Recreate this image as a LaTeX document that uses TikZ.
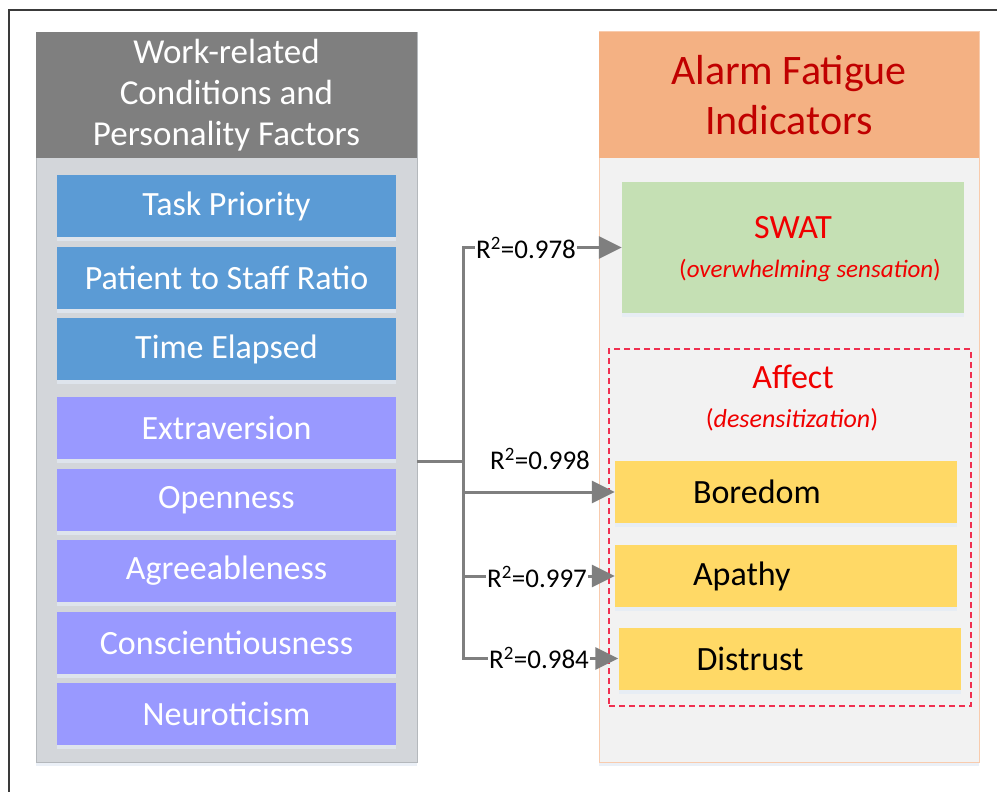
\documentclass[tikz,border=0pt]{standalone}
\usepackage{fontspec}
\setmainfont{Carlito}
\usetikzlibrary{arrows.meta,shadows}

\definecolor{hdrgray}{HTML}{7F7F7F}
\definecolor{panelgray}{HTML}{D3D6DA}
\definecolor{panelline}{HTML}{B4B8BC}
\definecolor{boxblue}{HTML}{5B9BD5}
\definecolor{boxpurple}{HTML}{9999FF}
\definecolor{hdrorange}{HTML}{F4B183}
\definecolor{panellight}{HTML}{F2F2F2}
\definecolor{peachline}{HTML}{F8CBAD}
\definecolor{boxgreen}{HTML}{C5E0B4}
\definecolor{boxyellow}{HTML}{FFD966}
\definecolor{darkred}{HTML}{C00000}
\definecolor{brightred}{HTML}{F00000}
\definecolor{dashred}{HTML}{F03050}
\definecolor{linkgray}{HTML}{7F7F7F}
\definecolor{shadowblue}{HTML}{E3EBF5}
\definecolor{framegray}{HTML}{3A3A3A}

\tikzset{
  softshadow/.style={drop shadow={shadow xshift=0pt, shadow yshift=-4pt, fill=shadowblue, opacity=0.7}},
  panel/.style={rectangle, inner sep=0pt, minimum width=381pt, minimum height=730pt},
  header/.style={rectangle, inner sep=0pt, minimum width=381pt, minimum height=126pt, align=center},
  factor/.style={rectangle, inner sep=0pt, minimum width=339pt, minimum height=62pt,
    text=white, font=\fontsize{34}{40}\selectfont, softshadow},
  workbox/.style={factor, fill=boxblue},
  personbox/.style={factor, fill=boxpurple},
  affectbox/.style={rectangle, fill=boxyellow, minimum height=62pt, text width=186pt,
    inner xsep=78pt, inner ysep=0pt, align=left, font=\fontsize{34}{40}\selectfont, softshadow},
  redtitle/.style={text=brightred, inner sep=0pt},
  conn/.style={draw=linkgray, line width=3pt},
  tip/.style={-{Triangle[length=23pt,width=22pt]}},
  rlabel/.style={fill=white, inner xsep=1pt, inner ysep=0pt, font=\fontsize{27}{32}\selectfont}
}

\begin{document}
\begin{tikzpicture}[x=1pt,y=-1pt]
  \useasboundingbox (0,0) rectangle (997,792);
  \fill[white] (0,0) rectangle (997,792);

  % outer frame (left and top edges)
  \draw[framegray, line width=2pt] (8.5,792) -- (8.5,10.5) -- (997,10.5);

  % left panel: work-related conditions and personality factors
  \node[panel, fill=panelgray, draw=panelline, line width=0.8pt, softshadow] (lp) at (226.5,397) {};
  \node[header, fill=hdrgray, text=white, font=\fontsize{35}{41}\selectfont] (lh) at (226.5,95)
    {Work-related\\Conditions and\\Personality Factors};

  \node[workbox] (task) at (226.5,206) {Task Priority};
  \node[workbox] (ratio) at (226.5,278) {Patient to Staff Ratio};
  \node[workbox] (time) at (226.5,349) {Time Elapsed};

  \node[personbox] (extra) at (226.5,428) {Extraversion};
  \node[personbox] (open) at (226.5,500) {Openness};
  \node[personbox] (agree) at (226.5,571) {Agreeableness};
  \node[personbox] (consc) at (226.5,643) {Conscientiousness};
  \node[personbox] (neuro) at (226.5,714) {Neuroticism};

  % right panel: alarm fatigue indicators
  \node[panel, minimum width=380pt, fill=panellight, draw=peachline, line width=1pt, softshadow] (rp) at (789,397) {};
  \node[header, minimum width=380pt, fill=hdrorange, text=darkred, font=\fontsize{42}{50}\selectfont] (rh) at (789,95)
    {Alarm Fatigue\\Indicators};

  \node[rectangle, fill=boxgreen, minimum width=342pt, minimum height=131pt, inner sep=0pt, softshadow] (swat) at (793,247.5) {};
  \node[redtitle, font=\fontsize{34}{40}\selectfont] (swatname) at (793,228) {SWAT};
  \node[redtitle, font=\fontsize{25}{30}\selectfont] (swatnote) at (810,270) {(\textit{overwhelming sensation})};

  \node[rectangle, draw=dashred, dash pattern=on 6pt off 4pt, line width=1.3pt,
        minimum width=362pt, minimum height=357pt, inner sep=0pt] (aff) at (790,527.5) {};
  \node[redtitle, font=\fontsize{34}{40}\selectfont] (affname) at (793,377) {Affect};
  \node[redtitle, font=\fontsize{26}{30}\selectfont] (affnote) at (792,420) {(\textit{desensitization})};

  \node[affectbox] (bore) at (786,492) {Boredom};
  \node[affectbox] (apathy) at (786,576) {Apathy};
  \node[affectbox] (distrust) at (789.5,658.5) {Distrust};

  % regression links
  \coordinate (hub) at (463,461);
  \draw[conn] (hub -| lp.east) -- (hub);
  \draw[conn, tip] (hub) |- (swat.west);
  \draw[conn, tip] (hub) |- (bore.west);
  \draw[conn, tip] (hub) |- (apathy.west);
  \draw[conn, tip] (hub) |- (distrust.west);

  \node[rlabel] (r1) at (526,248) {R\textsuperscript{2}=0.978};
  \node[rlabel, fill=none] (r2) at (540,459) {R\textsuperscript{2}=0.998};
  \node[rlabel] (r3) at (537,577) {R\textsuperscript{2}=0.997};
  \node[rlabel] (r4) at (539,658) {R\textsuperscript{2}=0.984};
\end{tikzpicture}
\end{document}
